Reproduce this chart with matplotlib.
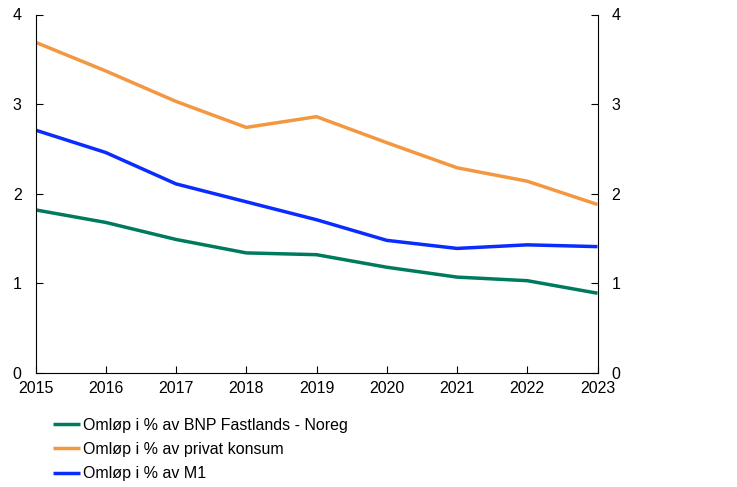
import matplotlib
matplotlib.use("Agg")
import matplotlib.pyplot as plt

years = [2015, 2016, 2017, 2018, 2019, 2020, 2021, 2022, 2023]
bnp = [1.82, 1.68, 1.49, 1.34, 1.32, 1.18, 1.07, 1.03, 0.89]
konsum = [3.69, 3.37, 3.03, 2.74, 2.86, 2.57, 2.29, 2.14, 1.88]
m1 = [2.71, 2.46, 2.11, 1.91, 1.71, 1.48, 1.39, 1.43, 1.41]
labels = ["Omløp i % av BNP Fastlands - Noreg",
          "Omløp i % av privat konsum",
          "Omløp i % av M1"]
colors = ["#007A5E", "#F39841", "#0A2CFF"]

plt.rcParams['font.family'] = ['Liberation Sans', 'DejaVu Sans']
fig = plt.figure(figsize=(7.37, 4.87), dpi=100)
ax = fig.add_axes([35.5/737, 1-373/487, (597.5-35.5)/737, (373-14.5)/487])

for vals, lab, c in zip([bnp, konsum, m1], labels, colors):
    ax.plot(years, vals, color=c, lw=2.5, label=lab, solid_capstyle='butt')

ax.set_xlim(2015, 2023)
ax.set_ylim(0, 4)
ax.set_xticks(years)
ax.set_yticks([0, 1, 2, 3, 4])
ax.spines['top'].set_visible(False)
for s in ['left', 'right', 'bottom']:
    ax.spines[s].set_linewidth(0.8)
ax.tick_params(axis='both', direction='in', length=5, width=0.8, labelsize=11.5)
ax.tick_params(axis='y', left=True, right=True, labelleft=True, labelright=True, pad=10)
ax.tick_params(axis='x', pad=6)

leg = ax.legend(loc='upper left', bbox_to_anchor=(17/562, -0.125), frameon=False,
                fontsize=11.5, handlelength=1.7, handletextpad=0.2, labelspacing=0.58,
                borderaxespad=0, borderpad=0)
fig.savefig("out.png", dpi=100)
